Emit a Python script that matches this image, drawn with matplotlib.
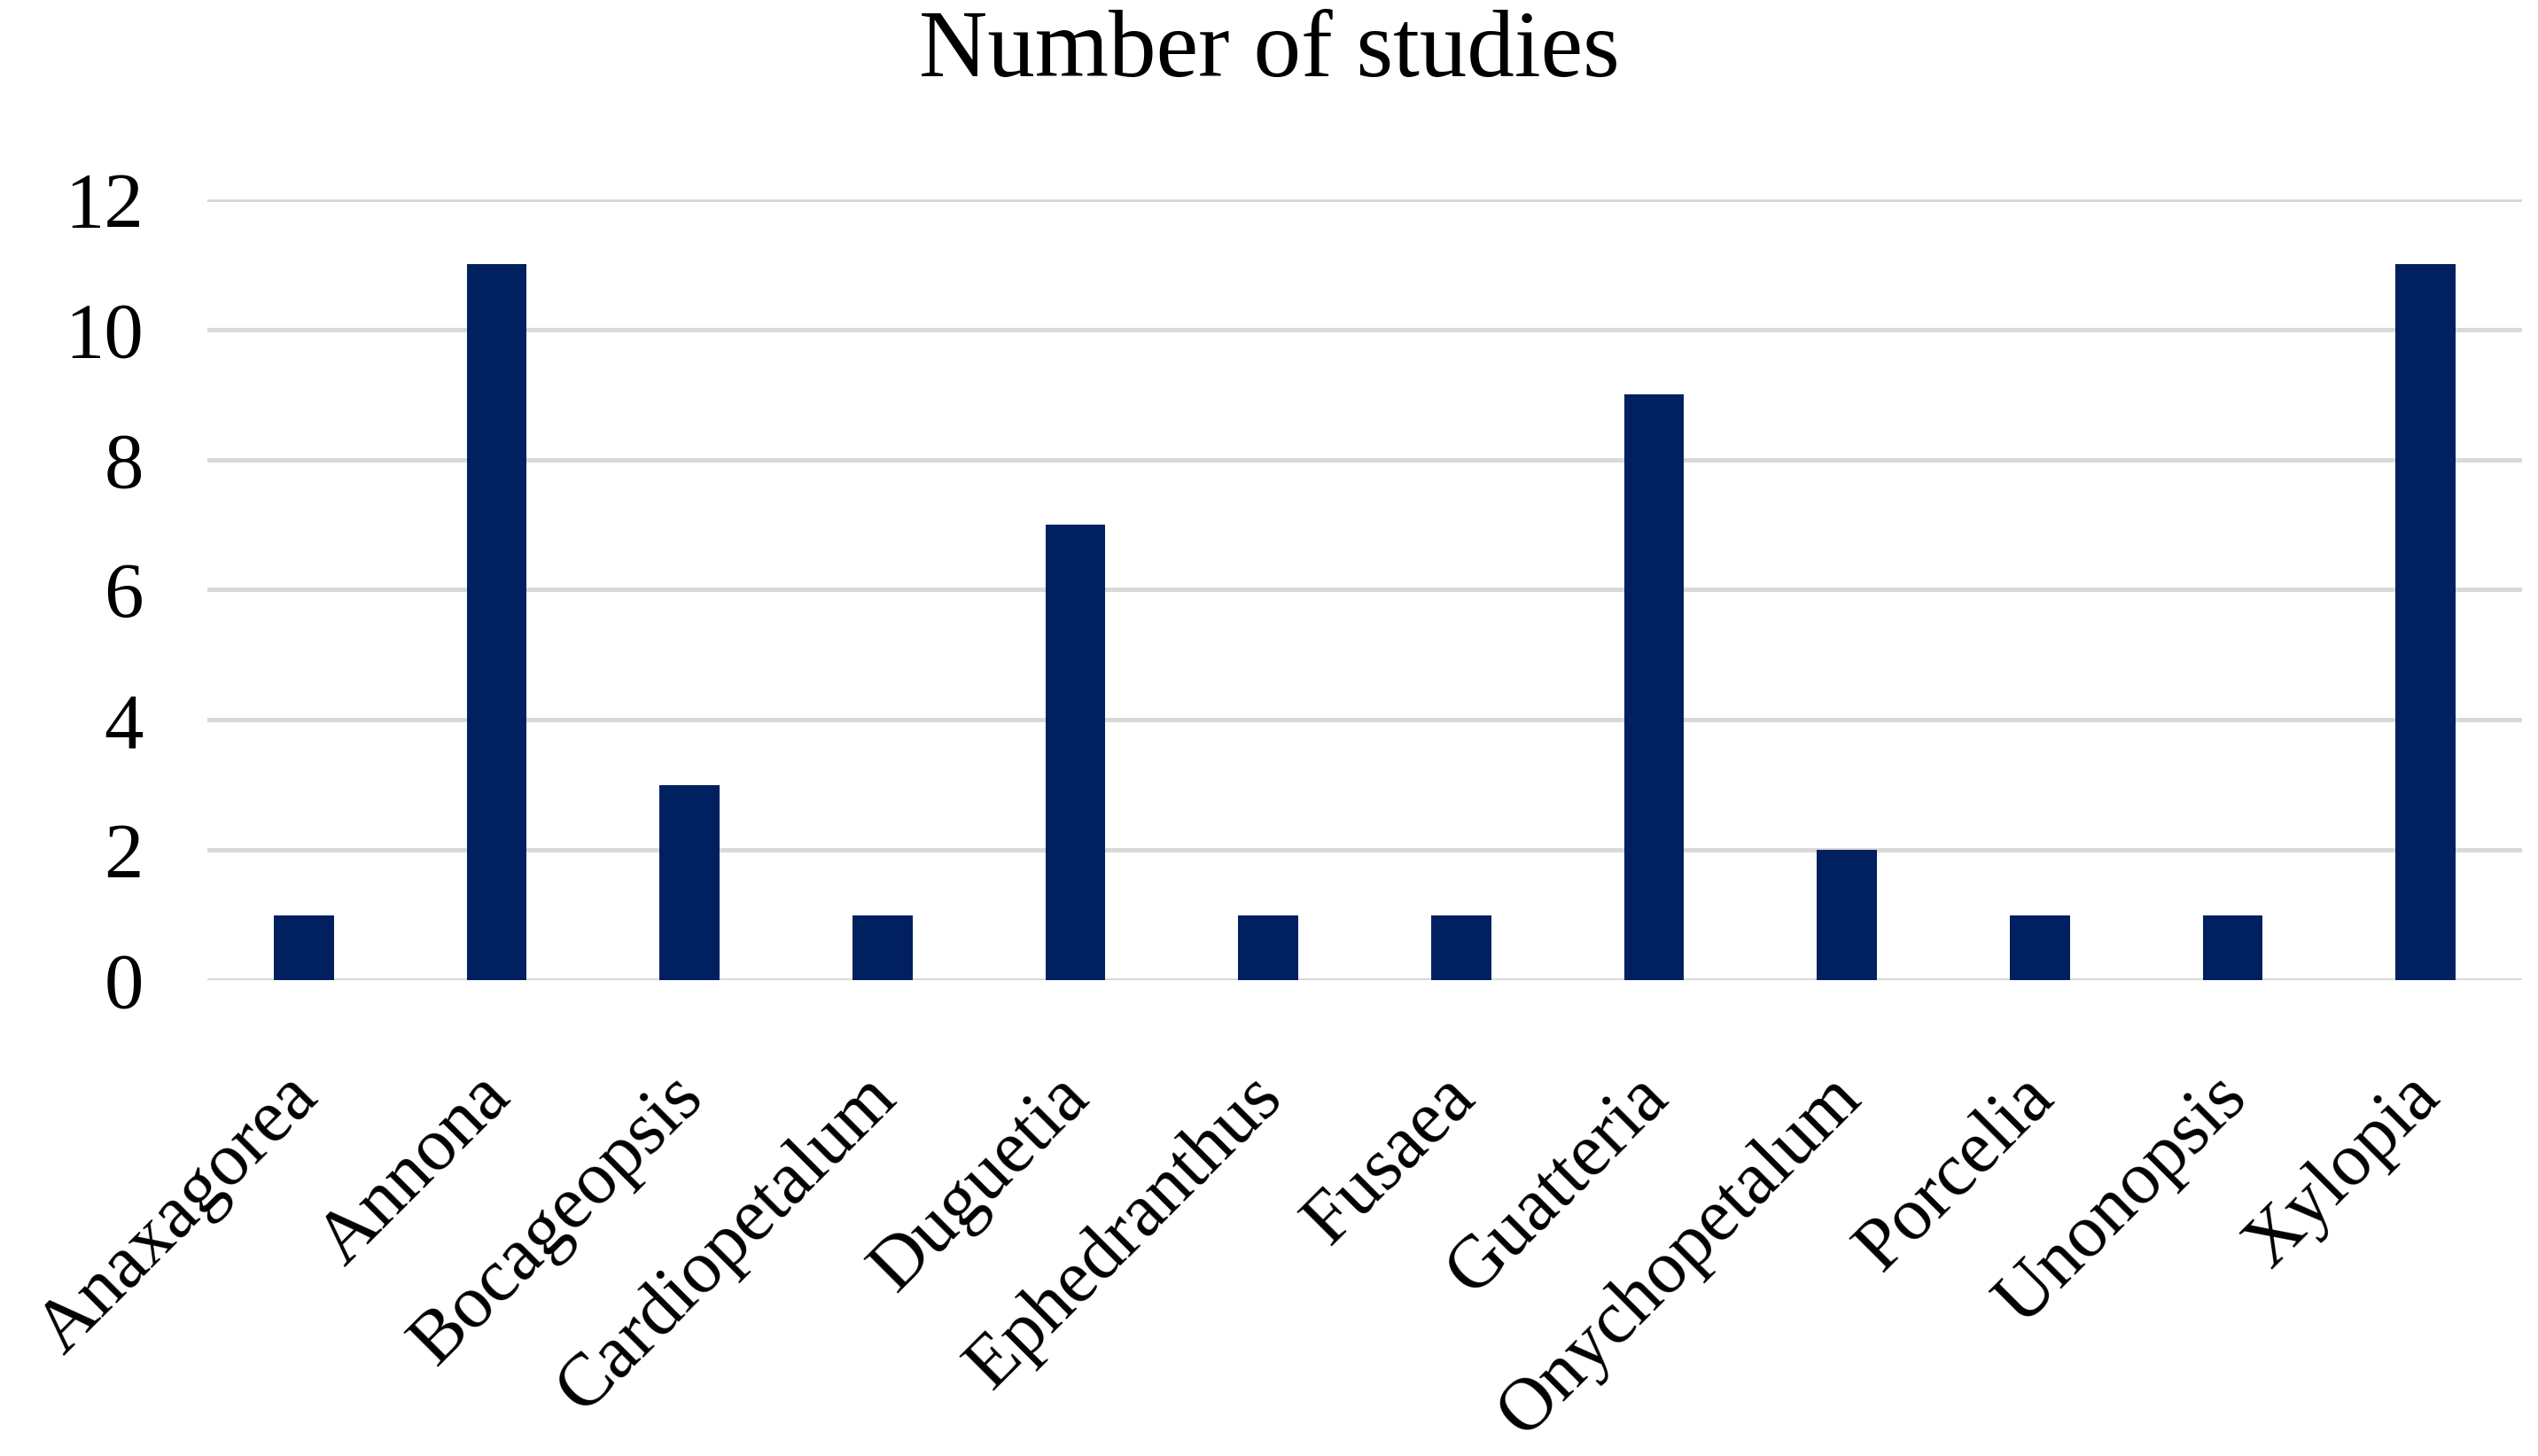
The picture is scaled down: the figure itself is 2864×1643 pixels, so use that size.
import matplotlib
matplotlib.use("Agg")
import matplotlib.pyplot as plt
from matplotlib.transforms import ScaledTranslation

genera = ["Anaxagorea", "Annona", "Bocageopsis", "Cardiopetalum", "Duguetia",
          "Ephedranthus", "Fusaea", "Guatteria", "Onychopetalum", "Porcelia",
          "Unonopsis", "Xylopia"]
studies = [1, 11, 3, 1, 7, 1, 1, 9, 2, 1, 1, 11]
yticks = [0, 2, 4, 6, 8, 10, 12]

plt.rcParams["font.family"] = ["Liberation Serif", "DejaVu Serif"]

fig = plt.figure(figsize=(28.64, 16.43), dpi=100)
ax = fig.add_axes([0.0817, 0.3269, 0.912, 0.5361])

x = list(range(len(genera)))
ax.bar(x, studies, width=0.31, color="#002060", zorder=3)

ax.set_xlim(-0.5, len(genera) - 0.5)
ax.set_ylim(0, 12)
ax.set_yticks(yticks)
ax.set_yticklabels([str(t) for t in yticks], fontsize=64)
ax.yaxis.grid(True, color="#d9d9d9", linewidth=3.6, zorder=0)
ax.tick_params(axis="y", length=0, pad=52)
ax.tick_params(axis="x", length=0, pad=97)
ax.set_xticks(x)
ax.set_xticklabels(genera, rotation=45, ha="right", va="baseline",
                   rotation_mode="anchor", fontsize=61)
# labels end a little right of the bar centre, as in the original
shift = ScaledTranslation(0.18, 0, fig.dpi_scale_trans)
for lab in ax.get_xticklabels():
    lab.set_transform(lab.get_transform() + shift)
for s in ax.spines.values():
    s.set_visible(False)

fig.text(0.5, 0.9477, "Number of studies", ha="center", va="baseline", fontsize=77)

fig.savefig("out.png", dpi=100, facecolor="white")
